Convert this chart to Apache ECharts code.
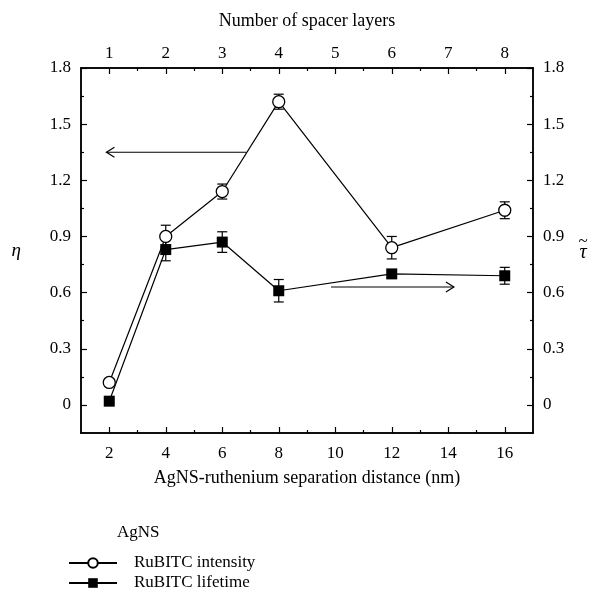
<!DOCTYPE html>
<html>
<head>
<meta charset="utf-8">
<script src="https://cdn.jsdelivr.net/npm/echarts@6/dist/echarts.min.js"></script>
<style>
  html, body { margin: 0; padding: 0; background: #fff; }
  #chart { width: 600px; height: 595px; }
</style>
</head>
<body>
<div id="chart"></div>
<script>
// data
const distance = [2, 4, 6, 8, 12, 16];
const intensity = [0.12, 0.90, 1.14, 1.62, 0.84, 1.04];
const intensityErr = [0.02, 0.06, 0.04, 0.04, 0.06, 0.045];
const lifetime = [0.02, 0.83, 0.87, 0.61, 0.70, 0.69];
const lifetimeErr = [0.01, 0.06, 0.055, 0.06, 0.02, 0.045];

const xTicks = [2, 4, 6, 8, 10, 12, 14, 16];
const xMinorTicks = [3, 5, 7, 9, 11, 13, 15];
const layerLabels = ["1", "2", "3", "4", "5", "6", "7", "8"];
const yTicks = [0, 0.3, 0.6, 0.9, 1.2, 1.5, 1.8];
const yMinorTicks = [0.15, 0.45, 0.75, 1.05, 1.35, 1.65];

// arrows: [x start, y start, x end, y end]
const arrowIntensity = [6.85, 1.35, 1.9, 1.35];
const arrowLifetime = [9.85, 0.63, 14.2, 0.63];

const FONT = "Liberation Serif";
const xMin = 1, xMax = 17, yMin = -0.15, yMax = 1.8;

const chart = echarts.init(document.getElementById("chart"));

const axisLine = { show: true, onZero: false, lineStyle: { color: "#000", width: 1.5 } };

function xAxisDef(position, major, extra) {
  return Object.assign({
    type: "value",
    position: position,
    min: xMin,
    max: xMax,
    axisLine: axisLine,
    splitLine: { show: false },
    axisTick: {
      show: true,
      inside: true,
      length: major ? 6 : 3,
      lineStyle: { color: "#000", width: 1.2 },
      customValues: major ? xTicks : xMinorTicks,
    },
    axisLabel: major
      ? { show: true, customValues: xTicks, color: "#000", fontFamily: FONT, fontSize: 17, margin: 12 }
      : { show: false },
  }, extra || {});
}

function yAxisDef(position, major, extra) {
  return Object.assign({
    type: "value",
    position: position,
    min: yMin,
    max: yMax,
    axisLine: axisLine,
    splitLine: { show: false },
    axisTick: {
      show: true,
      inside: true,
      length: major ? 6 : 3,
      lineStyle: { color: "#000", width: 1.2 },
      customValues: major ? yTicks : yMinorTicks,
    },
    axisLabel: major
      ? { show: true, customValues: yTicks, color: "#000", fontFamily: FONT, fontSize: 17, margin: 10,
          formatter: (v) => String(Math.round(v * 10) / 10) }
      : { show: false },
  }, extra || {});
}

function errorBars(values, errs) {
  return distance.map((d, i) => [d, values[i] - errs[i], values[i] + errs[i]]);
}

function renderErr(params, api) {
  const x = api.value(0);
  const lo = api.coord([x, api.value(1)]);
  const hi = api.coord([x, api.value(2)]);
  const w = 5;
  const style = { stroke: "#000", lineWidth: 1.2 };
  return {
    type: "group",
    children: [
      { type: "line", shape: { x1: lo[0], y1: lo[1], x2: hi[0], y2: hi[1] }, style: style },
      { type: "line", shape: { x1: lo[0] - w, y1: lo[1], x2: lo[0] + w, y2: lo[1] }, style: style },
      { type: "line", shape: { x1: hi[0] - w, y1: hi[1], x2: hi[0] + w, y2: hi[1] }, style: style },
    ],
  };
}

function renderArrow(params, api) {
  const a = api.coord([api.value(0), api.value(1)]);
  const b = api.coord([api.value(2), api.value(3)]);
  const dx = b[0] - a[0], dy = b[1] - a[1];
  const len = Math.sqrt(dx * dx + dy * dy);
  const ux = dx / len, uy = dy / len;
  const back = 8, side = 5;
  const style = { stroke: "#000", lineWidth: 1.2, fill: null };
  return {
    type: "group",
    children: [
      { type: "line", shape: { x1: a[0], y1: a[1], x2: b[0], y2: b[1] }, style: style },
      {
        type: "polyline",
        shape: {
          points: [
            [b[0] - ux * back - uy * side, b[1] - uy * back + ux * side],
            [b[0], b[1]],
            [b[0] - ux * back + uy * side, b[1] - uy * back - ux * side],
          ],
        },
        style: style,
      },
    ],
  };
}

chart.setOption({
  backgroundColor: "#fff",
  animation: false,
  textStyle: { fontFamily: FONT, color: "#000" },
  grid: { left: 81, right: 67, top: 68, bottom: 162, containLabel: false },
  title: {
    text: "AgNS",
    left: 117,
    top: 524,
    padding: 0,
    textStyle: { fontFamily: FONT, fontSize: 17, fontWeight: "normal", color: "#000" },
  },
  legend: {
    orient: "vertical",
    left: 68,
    top: 553,
    padding: 0,
    itemWidth: 48,
    itemHeight: 12,
    itemGap: 0,
    selectedMode: false,
    data: ["RuBITC intensity", "RuBITC lifetime"],
    textStyle: { fontFamily: FONT, fontSize: 17, color: "#000", lineHeight: 20, padding: [0, 0, 0, 12] },
  },
  xAxis: [
    xAxisDef("bottom", true, {
      name: "AgNS-ruthenium separation distance (nm)",
      nameLocation: "middle",
      nameGap: 36,
      nameTextStyle: { fontFamily: FONT, fontSize: 18, color: "#000" },
    }),
    xAxisDef("bottom", false),
    xAxisDef("top", true, {
      name: "Number of spacer layers",
      nameLocation: "middle",
      nameGap: 38,
      nameTextStyle: { fontFamily: FONT, fontSize: 18, color: "#000" },
      axisLabel: {
        show: true, customValues: xTicks, color: "#000", fontFamily: FONT, fontSize: 17, margin: 6,
        formatter: (v) => layerLabels[xTicks.indexOf(v)],
      },
    }),
    xAxisDef("top", false),
  ],
  yAxis: [
    yAxisDef("left", true, {
      name: "η",
      nameLocation: "middle",
      nameRotate: 0,
      nameGap: 60,
      nameTextStyle: { fontFamily: FONT, fontSize: 19, fontStyle: "italic", color: "#000" },
    }),
    yAxisDef("left", false),
    yAxisDef("right", true, {
      name: "{tl|~}\n{tau|τ}",
      nameLocation: "middle",
      nameRotate: 0,
      nameGap: 50,
      nameTextStyle: {
        fontFamily: FONT,
        color: "#000",
        align: "center",
        rich: {
          tl: { fontFamily: FONT, fontSize: 17, lineHeight: 5, align: "center", color: "#000" },
          tau: { fontFamily: FONT, fontSize: 20, fontStyle: "italic", lineHeight: 18, align: "center", color: "#000" },
        },
      },
    }),
    yAxisDef("right", false),
  ],
  series: [
    {
      type: "custom",
      name: "intensity error",
      renderItem: renderErr,
      data: errorBars(intensity, intensityErr),
      z: 1,
    },
    {
      type: "custom",
      name: "lifetime error",
      renderItem: renderErr,
      data: errorBars(lifetime, lifetimeErr),
      z: 1,
    },
    {
      type: "custom",
      name: "arrows",
      renderItem: renderArrow,
      data: [arrowIntensity, arrowLifetime],
      z: 1,
    },
    {
      name: "RuBITC lifetime",
      type: "line",
      data: distance.map((d, i) => [d, lifetime[i]]),
      symbol: "rect",
      symbolSize: 11,
      showAllSymbol: true,
      lineStyle: { color: "#000", width: 1.2 },
      itemStyle: { color: "#000", borderColor: "#000", borderWidth: 0 },
      z: 3,
    },
    {
      name: "RuBITC intensity",
      type: "line",
      data: distance.map((d, i) => [d, intensity[i]]),
      symbol: "circle",
      symbolSize: 12,
      showAllSymbol: true,
      lineStyle: { color: "#000", width: 1.2 },
      itemStyle: { color: "#fff", borderColor: "#000", borderWidth: 1.3 },
      z: 4,
    },
  ],
});
</script>
</body>
</html>
